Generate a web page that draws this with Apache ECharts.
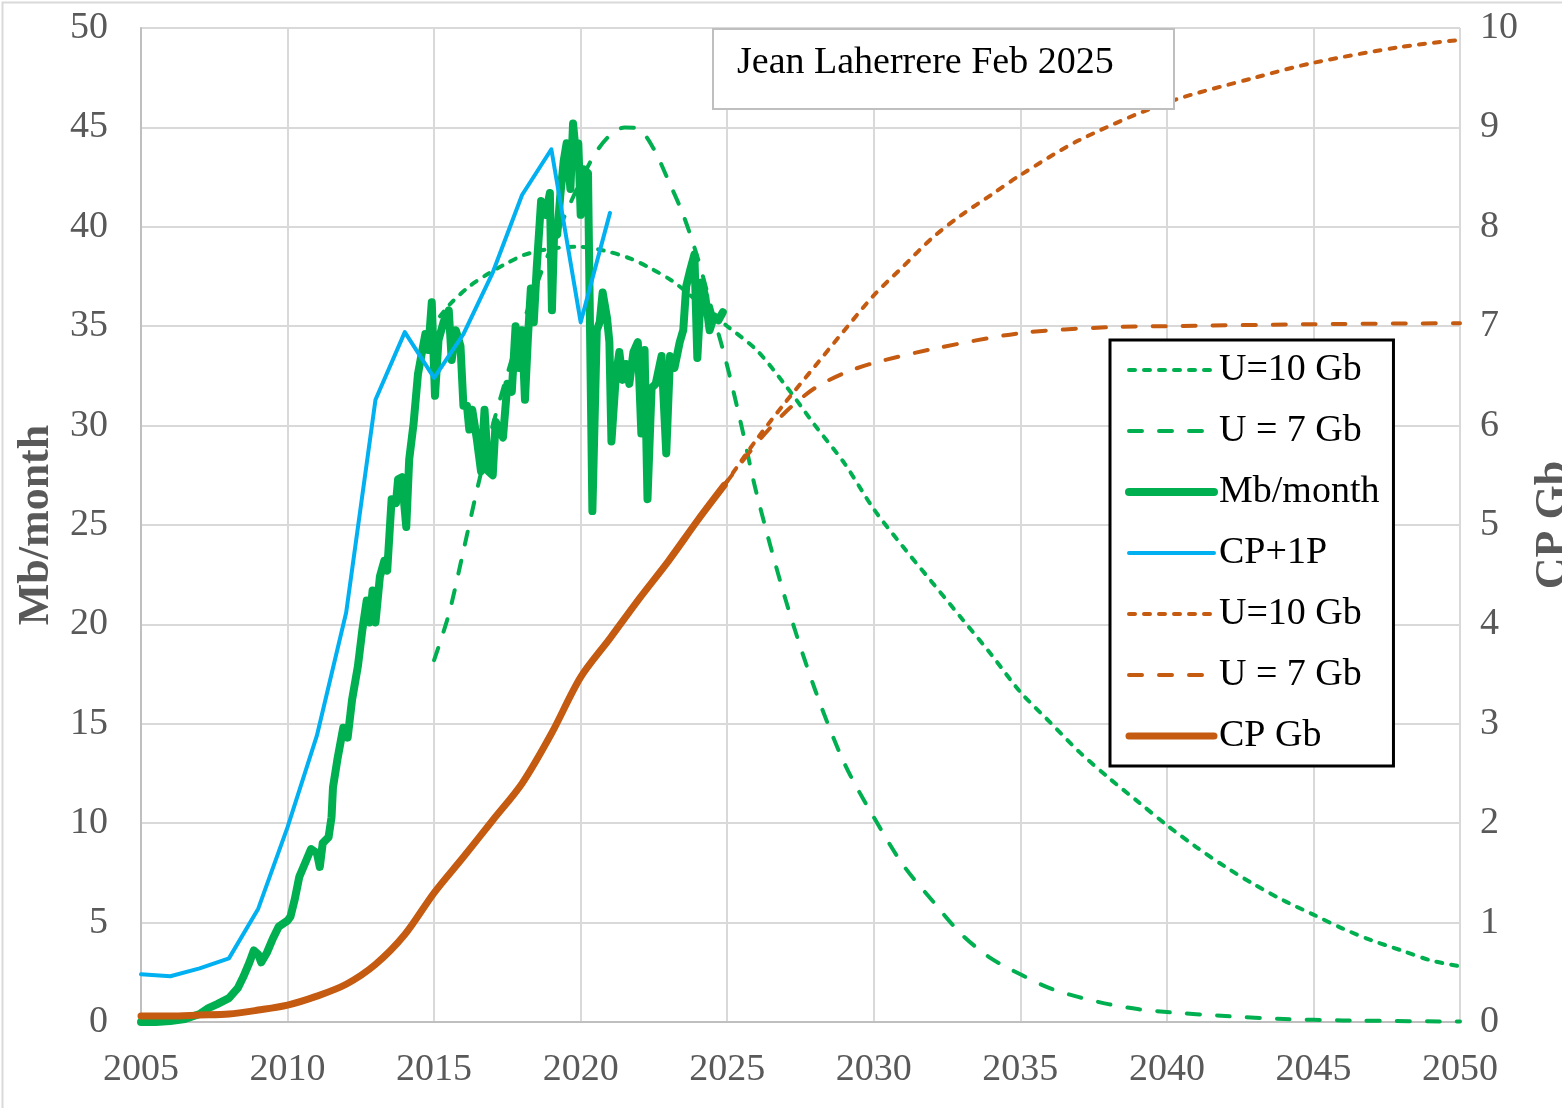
<!DOCTYPE html>
<html>
<head>
<meta charset="utf-8">
<script src="https://cdn.jsdelivr.net/npm/echarts@6/dist/echarts.min.js"></script>
<style>
  html, body { margin: 0; padding: 0; background: #fff; }
  #chart { width: 1562px; height: 1108px; }
</style>
</head>
<body>
<div id="chart"></div>
<script>
// monthly production, Mb/month  [year, value]
const monthly = [
  [2005.0, 0.0], [2005.5, 0.0], [2006.0, 0.05], [2006.5, 0.15], [2007.0, 0.4], [2007.3, 0.7],
  [2007.6, 0.9], [2008.0, 1.2], [2008.3, 1.7], [2008.5, 2.3], [2008.7, 3.0], [2008.85, 3.6],
  [2009.0, 3.4], [2009.1, 3.0], [2009.3, 3.5], [2009.5, 4.2], [2009.7, 4.8], [2010.0, 5.1],
  [2010.1, 5.3], [2010.25, 6.2], [2010.4, 7.3], [2010.6, 8.0], [2010.8, 8.7], [2011.0, 8.5],
  [2011.1, 7.8], [2011.2, 9.0], [2011.4, 9.3], [2011.5, 10.3], [2011.55, 11.8], [2011.7, 13.2],
  [2011.9, 14.8], [2012.05, 14.3], [2012.2, 16.2], [2012.4, 17.9], [2012.55, 19.7], [2012.7, 21.2],
  [2012.8, 20.1], [2012.9, 21.7], [2013.0, 20.1], [2013.15, 22.4], [2013.3, 23.2], [2013.4, 22.7],
  [2013.55, 26.3], [2013.7, 26.1], [2013.77, 27.3], [2013.9, 27.4], [2014.05, 24.9], [2014.15, 28.3],
  [2014.3, 30.1], [2014.45, 32.6], [2014.6, 33.8], [2014.7, 34.6], [2014.8, 33.8], [2014.92, 36.2],
  [2015.03, 31.5], [2015.15, 34.3], [2015.32, 35.2], [2015.5, 35.8], [2015.6, 33.3], [2015.74, 34.8],
  [2015.9, 34.0], [2016.0, 31.0], [2016.12, 31.0], [2016.2, 29.8], [2016.3, 30.8], [2016.45, 29.4],
  [2016.6, 27.7], [2016.72, 30.8], [2016.85, 27.7], [2017.0, 27.5], [2017.1, 30.2], [2017.35, 29.4],
  [2017.5, 32.1], [2017.65, 31.7], [2017.78, 35.0], [2017.9, 32.9], [2018.0, 34.8], [2018.1, 31.3],
  [2018.2, 34.4], [2018.3, 36.9], [2018.4, 35.2], [2018.5, 37.9], [2018.65, 41.3], [2018.8, 40.6],
  [2018.95, 41.7], [2019.02, 35.8], [2019.1, 40.0], [2019.2, 39.6], [2019.3, 41.5], [2019.42, 43.3],
  [2019.52, 44.2], [2019.65, 41.9], [2019.74, 45.2], [2019.83, 43.8], [2019.92, 44.2], [2020.0, 40.6],
  [2020.1, 42.9], [2020.25, 42.7], [2020.4, 25.7], [2020.55, 34.8], [2020.65, 35.2], [2020.75, 36.7],
  [2020.9, 35.4], [2020.98, 34.2], [2021.05, 29.2], [2021.2, 32.5], [2021.32, 33.7], [2021.43, 32.3],
  [2021.55, 33.1], [2021.66, 32.1], [2021.8, 33.7], [2021.95, 34.2], [2022.07, 29.6], [2022.18, 33.8],
  [2022.28, 26.3], [2022.42, 31.9], [2022.56, 32.1], [2022.76, 33.5], [2022.92, 28.6], [2023.05, 33.5],
  [2023.2, 32.9], [2023.38, 34.2], [2023.5, 34.8], [2023.6, 37.0], [2023.75, 37.9], [2023.88, 38.6],
  [2023.98, 33.4], [2024.12, 37.2], [2024.25, 36.5], [2024.4, 34.8], [2024.55, 35.5], [2024.7, 35.3],
  [2024.85, 35.7]
]

// CP+1P, yearly
const cp1p = [
  [2005, 2.4], [2006, 2.3], [2007, 2.7], [2008, 3.2], [2009, 5.7], [2010, 9.8], [2011, 14.4],
  [2012, 20.6], [2013, 31.3], [2014, 34.7], [2015, 32.4], [2016, 34.6], [2017, 37.7], [2018, 41.6],
  [2019, 43.9], [2020, 35.2], [2021, 40.7]
]

// model U=10 Gb, Mb/month
const u10 = [
  [2015.2, 35.5], [2015.6, 36.2], [2016.2, 37.0], [2016.8, 37.6], [2017.4, 38.1], [2018.1, 38.6],
  [2019.0, 38.9], [2019.9, 39.0], [2020.8, 38.8], [2021.7, 38.4], [2022.4, 37.9], [2023.1, 37.3],
  [2023.7, 36.6], [2024.3, 35.8], [2025, 35.0], [2026, 33.8], [2027, 32.0], [2028, 30.0],
  [2029, 28.1], [2030, 25.8], [2031, 23.9], [2032, 22.1], [2033, 20.3], [2034, 18.5],
  [2035, 16.6], [2036, 15.1], [2037, 13.6], [2038, 12.3], [2039, 11.1], [2040, 9.9],
  [2041, 8.8], [2042, 7.8], [2043, 6.9], [2044, 6.1], [2045, 5.4], [2046, 4.7],
  [2047, 4.1], [2048, 3.6], [2049, 3.1], [2050, 2.8]
]

// model U = 7 Gb, Mb/month
const u7 = [
  [2015.0, 18.2], [2015.5, 20.5], [2016.0, 23.7], [2016.5, 27.0], [2017.0, 30.0], [2017.5, 32.6],
  [2018.0, 35.0], [2018.5, 37.1], [2019.0, 39.0], [2019.5, 40.7], [2020.0, 42.3], [2020.5, 43.7],
  [2021.0, 44.6], [2021.5, 45.0], [2022.0, 44.9], [2022.5, 43.9], [2023.0, 42.3], [2023.5, 40.6],
  [2024.0, 38.4], [2024.5, 35.7], [2025.0, 33.0], [2025.5, 29.9], [2026, 26.6], [2027, 21.2],
  [2028, 16.7], [2029, 13.0], [2030, 10.3], [2031, 7.9], [2032, 6.1], [2033, 4.4],
  [2034, 3.2], [2035, 2.4], [2036, 1.7], [2037, 1.25], [2038, 0.9], [2039, 0.65],
  [2040, 0.5], [2042, 0.3], [2044, 0.15], [2046, 0.08], [2050, 0.02]
]

// cumulative production CP, Gb
const cp = [
  [2005, 0.06], [2006, 0.06], [2007, 0.07], [2008, 0.08], [2009, 0.12], [2010, 0.17], [2011, 0.26],
  [2012, 0.38], [2013, 0.58], [2014, 0.88], [2015, 1.3], [2016, 1.66], [2017, 2.03], [2018, 2.4],
  [2019, 2.9], [2020, 3.47], [2021, 3.86], [2022, 4.26], [2023, 4.64], [2024, 5.05], [2024.9, 5.4]
]

// cumulative U=10 Gb, Gb
const cpU10 = [
  [2024.9, 5.4], [2026, 5.86], [2027, 6.24], [2028, 6.6], [2029, 6.96], [2030, 7.31],
  [2031, 7.6], [2032, 7.89], [2033, 8.12], [2034, 8.32], [2035, 8.52], [2037, 8.87],
  [2040, 9.25], [2043, 9.5], [2045, 9.65], [2048, 9.81], [2050, 9.88]
]

// cumulative U = 7 Gb, Gb
const cpU7 = [
  [2024.9, 5.4], [2026, 5.82], [2027, 6.14], [2028, 6.38], [2029, 6.53], [2030, 6.63],
  [2032, 6.77], [2035, 6.93], [2038, 6.99], [2040, 7.0], [2045, 7.02], [2050, 7.03]
]

const xTicks = [2005, 2050, 5]
const GREEN = '#00B050'
const BLUE = '#00B0F0'
const ORANGE = '#C55A11'
const SERIF = '"Liberation Serif", "Times New Roman", serif'

const chart = echarts.init(document.getElementById('chart'))

const line = (name, data, color, width, type, yAxisIndex, smooth) => ({
  name,
  type: 'line',
  data,
  yAxisIndex,
  symbol: 'none',
  smooth: smooth || false,
  lineStyle: { color, width, type, cap: 'round', join: 'round' },
  itemStyle: { color },
  emphasis: { disabled: true },
  animation: false
})

const SHORT = [6, 9]
const LONG = [13, 17]

chart.setOption({
  backgroundColor: '#fff',
  animation: false,
  grid: { left: 141, right: 102, top: 28, bottom: 86, containLabel: false, outerBoundsMode: 'none' },
  xAxis: {
    type: 'value',
    min: xTicks[0],
    max: xTicks[1],
    interval: xTicks[2],
    axisLine: { show: true, lineStyle: { color: '#BFBFBF', width: 2 } },
    axisTick: { show: false },
    axisLabel: { color: '#595959', fontSize: 38, fontFamily: SERIF, margin: 29, formatter: (v) => String(v) },
    splitLine: { show: true, lineStyle: { color: '#D9D9D9', width: 2 } }
  },
  yAxis: [
    {
      type: 'value',
      min: 0, max: 50, interval: 5,
      name: 'Mb/month',
      nameLocation: 'middle',
      nameRotate: 90,
      nameGap: 82,
      nameTextStyle: { color: '#595959', fontSize: 44, fontWeight: 'bold', fontFamily: SERIF },
      axisLine: { show: true, lineStyle: { color: '#BFBFBF', width: 2 } },
      axisTick: { show: false },
      axisLabel: { color: '#595959', fontSize: 38, fontFamily: SERIF, margin: 33 },
      splitLine: { show: true, lineStyle: { color: '#D9D9D9', width: 2 } }
    },
    {
      type: 'value',
      min: 0, max: 10, interval: 1,
      position: 'right',
      name: 'CP Gb',
      nameLocation: 'middle',
      nameRotate: 90,
      nameGap: 72,
      nameTextStyle: { color: '#595959', fontSize: 44, fontWeight: 'bold', fontFamily: SERIF },
      axisLine: { show: false },
      axisTick: { show: false },
      axisLabel: { color: '#595959', fontSize: 38, fontFamily: SERIF, margin: 20 },
      splitLine: { show: false }
    }
  ],
  legend: {
    orient: 'vertical',
    left: 1110,
    top: 340,
    padding: [10, 14, 10, 15],
    itemWidth: 85,
    itemHeight: 20,
    itemGap: 21,
    backgroundColor: '#fff',
    borderColor: '#000',
    borderWidth: 3,
    itemStyle: { opacity: 0 },
    lineStyle: { width: 'inherit' },
    textStyle: { color: '#000', fontSize: 38, fontFamily: SERIF, lineHeight: 40 },
    formatter: (name) => name.trim(),
    data: ['U=10 Gb', 'U = 7 Gb', 'Mb/month', 'CP+1P', 'U=10 Gb ', 'U = 7 Gb ', 'CP Gb']
  },
  graphic: [
    {
      type: 'rect',
      left: 0, top: 0, z: 0, silent: true,
      shape: { width: 1561, height: 1107 },
      style: { fill: 'none', stroke: '#D9D9D9', lineWidth: 2 }
    },
    {
      type: 'rect',
      left: 712, top: 28, z: 100,
      shape: { width: 461, height: 80 },
      style: { fill: '#fff', stroke: '#BFBFBF', lineWidth: 2 }
    },
    {
      type: 'text',
      left: 737, top: 44, z: 101,
      style: { text: 'Jean Laherrere Feb 2025', fill: '#000', font: '38px ' + SERIF }
    }
  ],
  series: [
    line('U=10 Gb', u10, GREEN, 4, SHORT, 0, 0.3),
    line('U = 7 Gb', u7, GREEN, 4, LONG, 0, 0.3),
    line('Mb/month', monthly, GREEN, 8, 'solid', 0),
    line('CP+1P', cp1p, BLUE, 4, 'solid', 0),
    line('U=10 Gb ', cpU10, ORANGE, 4, SHORT, 1, 0.3),
    line('U = 7 Gb ', cpU7, ORANGE, 4, LONG, 1, 0.3),
    line('CP Gb', cp, ORANGE, 7, 'solid', 1, 0.3)
  ]
})

window.addEventListener('resize', () => chart.resize())
</script>
</body>
</html>
